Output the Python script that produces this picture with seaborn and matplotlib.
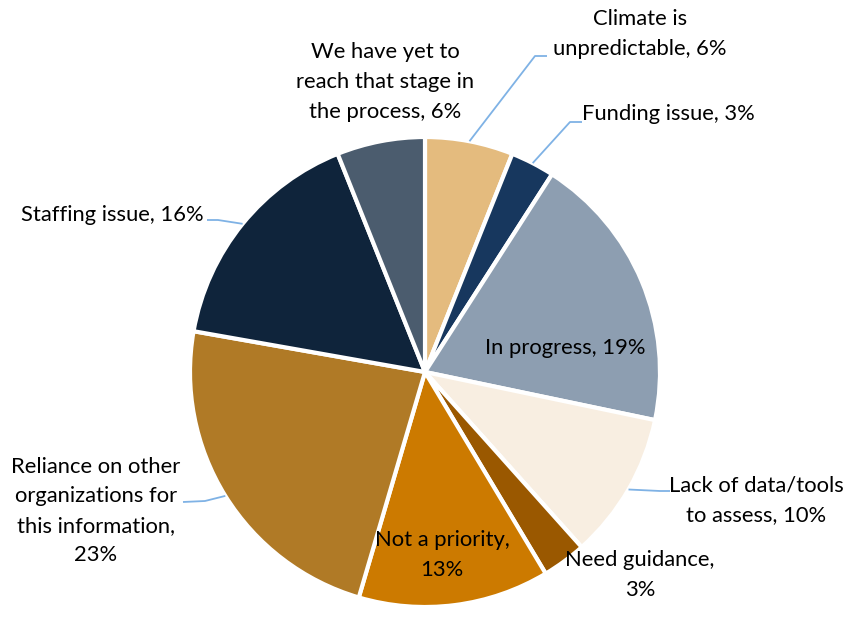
import numpy as np
import matplotlib
matplotlib.use("Agg")
import matplotlib.pyplot as plt
import seaborn as sns

# Reasons, listed clockwise from 12 o'clock
categories = [
    "Climate is\nunpredictable",
    "Funding issue",
    "In progress",
    "Lack of data/tools\nto assess",
    "Need guidance",
    "Not a priority",
    "Reliance on other\norganizations for\nthis information",
    "Staffing issue",
    "We have yet to\nreach that stage in\nthe process",
]
shares = [6, 3, 19, 10, 3, 13, 23, 16, 6]
colors = ["#E4BB7E", "#17375E", "#8D9EB1", "#F8EEE1", "#9A5800",
          "#CC7A00", "#B07A26", "#0F243B", "#4B5C6E"]

# label text in the form "name, xx%" (line break before the value where needed)
label_texts = [
    "Climate is\nunpredictable, {}%",
    "Funding issue, {}%",
    "In progress, {}%",
    "Lack of data/tools\nto assess, {}%",
    "Need guidance,\n{}%",
    "Not a priority,\n{}%",
    "Reliance on other\norganizations for\nthis information,\n{}%",
    "Staffing issue, {}%",
    "We have yet to\nreach that stage in\nthe process, {}%",
]

W, H = 853, 627
sns.set_theme(style="white")
plt.rcParams["font.family"] = ["Lato", "DejaVu Sans"]

fig = plt.figure(figsize=(W / 100, H / 100), dpi=100)
ax = fig.add_axes([0, 0, 1, 1])


def py(y):
    """Convert a top-down pixel row into axis y."""
    return H - y


cx, cy, R = 425, py(372), 235
wedges, _ = ax.pie(
    shares, colors=colors, startangle=90, counterclock=False,
    center=(cx, cy), radius=R, frame=True,
    wedgeprops=dict(edgecolor="white", linewidth=3),
)
ax.set_xlim(0, W)
ax.set_ylim(0, H)
ax.set_aspect("equal")
ax.axis("off")

# label placement: (text center x, text center y from top)
label_pos = [
    (640, 34),
    (668, 114),
    (565, 348),
    (756, 500),
    (640, 575),
    (442, 555),
    (96, 511),
    (112, 215),
    (385, 82),
]

# leader lines: index -> (elbow point, end point), top-down pixel rows
leaders = {
    0: ((535, 56), (547, 56)),
    1: ((570, 122), (582, 122)),
    3: ((660, 491), (670, 491)),
    6: ((205, 501), (183, 502)),
    7: ((218, 220), (207, 220)),
}

leader_color = "#7FB2E5"
for i, (w, val) in enumerate(zip(wedges, shares)):
    x, y = label_pos[i]
    ax.text(x, py(y), label_texts[i].format(val), ha="center", va="center",
            fontsize=15.8, color="#000000", linespacing=1.6)
    if i in leaders:
        mid = np.deg2rad((w.theta1 + w.theta2) / 2)
        sx, sy = cx + R * np.cos(mid), cy + R * np.sin(mid)
        (ex, ey), (tx, ty) = leaders[i]
        ax.plot([sx, ex, tx], [sy, py(ey), py(ty)], color=leader_color,
                linewidth=1.3, solid_capstyle="butt")

fig.savefig("out.png", dpi=100, facecolor="white")
